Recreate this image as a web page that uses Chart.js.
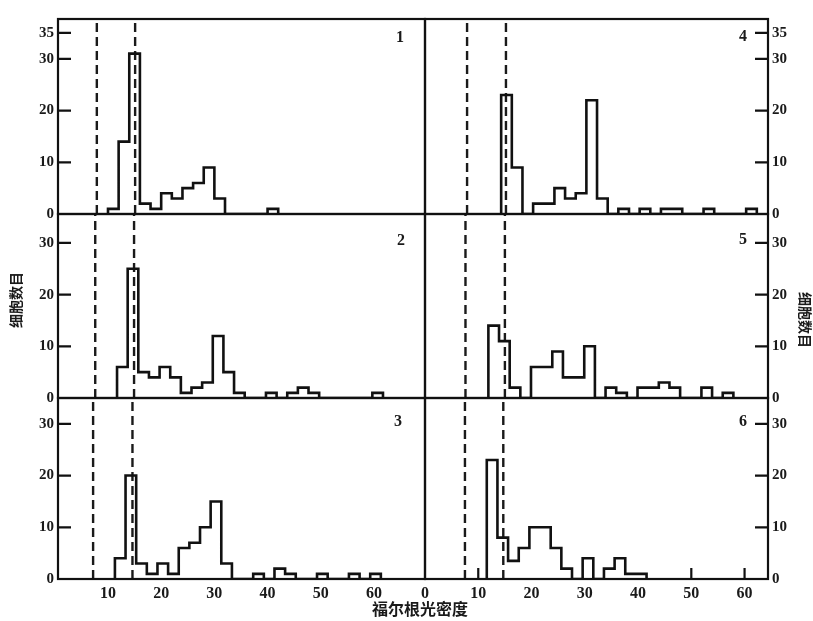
<!DOCTYPE html>
<html>
<head>
<meta charset="utf-8">
<script src="https://cdn.jsdelivr.net/npm/chart.js@4.4.1/dist/chart.umd.min.js"></script>
<style>
  body { margin: 0; background: #fff; }
  #wrap { position: relative; width: 813px; height: 621px; overflow: hidden; background: #fff; }
  #wrap canvas { position: absolute; left: 0; top: 0; }
  .lab { position: absolute; transform: translate(-50%, -50%); color: #1a1a1a; line-height: 1; white-space: nowrap;
         font-family: "Liberation Serif", serif; font-weight: bold; font-size: 16px; }
  .cjk { font-family: "Noto Sans CJK SC", sans-serif; font-weight: bold; }
</style>
</head>
<body>
<div id="wrap">
  <canvas id="p1" width="813" height="621"></canvas>
  <canvas id="p2" width="813" height="621"></canvas>
  <canvas id="p3" width="813" height="621"></canvas>
  <canvas id="p4" width="813" height="621"></canvas>
  <canvas id="p5" width="813" height="621"></canvas>
  <canvas id="p6" width="813" height="621"></canvas>

  <div class="lab" style="left:400px;top:37px">1</div>
  <div class="lab" style="left:401px;top:240px">2</div>
  <div class="lab" style="left:398px;top:421px">3</div>
  <div class="lab" style="left:743px;top:36px">4</div>
  <div class="lab" style="left:743px;top:239px">5</div>
  <div class="lab" style="left:743px;top:421px">6</div>

  <div class="lab cjk" style="left:15px;top:300px;font-size:14px;transform:translate(-50%,-50%) rotate(-90deg)">细胞数目</div>
  <div class="lab cjk" style="left:806px;top:320px;font-size:14px;transform:translate(-50%,-50%) rotate(90deg)">细胞数目</div>
  <div class="lab cjk" style="left:420px;top:608px;font-size:16px">福尔根光密度</div>
</div>

<script>
Chart.defaults.font.family = '"Liberation Serif", serif';
Chart.defaults.color = '#1a1a1a';

const binWidth = 2;

// cell counts per bin (Feulgen optical density), bins start at pXStart
const p1Start = 10;
const p1Counts = [1, 14, 31, 2, 1, 4, 3, 5, 6, 9, 3, 0, 0, 0, 0, 1];
const p2Start = 11.7;
const p2Counts = [6, 25, 5, 4, 6, 4, 1, 2, 3, 12, 5, 1, 0, 0, 1, 0, 1, 2, 1, 0, 0, 0, 0, 0, 1];
const p3Start = 11.3;
const p3Counts = [4, 20, 3, 1, 3, 1, 6, 7, 10, 15, 3, 0, 0, 1, 0, 2, 1, 0, 0, 1, 0, 0, 1, 0, 1];
const p4Start = 14.3;
const p4Counts = [23, 9, 0, 2, 2, 5, 3, 4, 22, 3, 0, 1, 0, 1, 0, 1, 1, 0, 0, 1, 0, 0, 0, 1];
const p5Start = 11.9;
const p5Counts = [14, 11, 2, 0, 6, 6, 9, 4, 4, 10, 0, 2, 1, 0, 2, 2, 3, 2, 0, 0, 2, 0, 1];
const p6Start = 11.6;
const p6Counts = [23, 8, 3.5, 6, 10, 10, 6, 2, 0, 4, 0, 2, 4, 1, 1];

// dashed reference lines
const p1Dash = [7.9, 15.1];
const p2Dash = [7.6, 14.9];
const p3Dash = [7.2, 14.6];
const p4Dash = [7.9, 15.2];
const p5Dash = [7.6, 15.0];
const p6Dash = [7.5, 14.7];

// tick labels
const yTicksTop = [0, 10, 20, 30, 35];
const yTicks = [0, 10, 20, 30];
const xTicksLeft = [10, 20, 30, 40, 50, 60];
const xTicksRight = [0, 10, 20, 30, 40, 50, 60];
const p6InnerTicks = [10, 50, 60];

// axis ranges
const leftXRange = [0.6, 69.6];
const rightXRange = [0, 64.4];
const rowYMax = [37.7, 35.6, 35.0];

// panel geometry on the page
const colEdges = { left: [58, 425], right: [425, 768] };
const rowEdges = [[19, 214], [214, 398], [398, 579]];
const W = 813, H = 621;

function histPoints(start, counts) {
  const pts = [{ x: start, y: 0 }];
  counts.forEach((c, i) => pts.push({ x: start + i * binWidth, y: c }));
  pts.push({ x: start + counts.length * binWidth, y: 0 });
  return pts;
}

const panelFrame = {
  id: 'panelFrame',
  afterDatasetsDraw(chart, args, opts) {
    const { ctx, chartArea: a, scales } = chart;
    ctx.save();
    ctx.strokeStyle = '#111';
    ctx.lineWidth = 2.2;
    ctx.strokeRect(a.left, a.top, a.right - a.left, a.bottom - a.top);
    ctx.beginPath();
    scales.y.ticks.forEach(t => {
      const py = scales.y.getPixelForValue(t.value);
      if (opts.side === 'left') { ctx.moveTo(a.left, py); ctx.lineTo(a.left + 13, py); }
      else { ctx.moveTo(a.right - 13, py); ctx.lineTo(a.right, py); }
    });
    (opts.xInner || []).forEach(v => {
      const px = scales.x.getPixelForValue(v);
      ctx.moveTo(px, a.bottom);
      ctx.lineTo(px, a.bottom - 11);
    });
    ctx.stroke();
    ctx.restore();
  }
};

function makePanel(id, side, row, start, counts, dash, xInner) {
  const isBottom = row === 2;
  const yMax = rowYMax[row];
  const [cl, cr] = colEdges[side];
  const [rt, rb] = rowEdges[row];
  const xAxisH = isBottom ? H - rb : 0;
  const xr = side === 'left' ? leftXRange : rightXRange;
  const xVals = side === 'left' ? xTicksLeft : xTicksRight;
  const yVals = row === 0 ? yTicksTop : yTicks;

  const datasets = [{
    data: histPoints(start, counts),
    stepped: 'before',
    borderColor: '#111',
    borderWidth: 2.6,
    pointRadius: 0
  }];
  dash.forEach(d => datasets.push({
    data: [{ x: d, y: 0 }, { x: d, y: yMax }],
    borderColor: '#1a1a1a',
    borderWidth: 2.4,
    borderDash: [9, 5],
    pointRadius: 0
  }));

  const xScale = {
    type: 'linear',
    min: xr[0],
    max: xr[1],
    display: isBottom,
    afterBuildTicks: s => { s.ticks = xVals.map(v => ({ value: v })); },
    grid: { display: false, drawTicks: false },
    border: { display: false },
    ticks: { padding: 5, autoSkip: false, maxRotation: 0, font: { size: 16, weight: 'bold' } }
  };
  if (isBottom) xScale.afterFit = s => { s.height = xAxisH; };

  new Chart(document.getElementById(id), {
    type: 'line',
    data: { datasets },
    plugins: [panelFrame],
    options: {
      responsive: false,
      animation: false,
      events: [],
      devicePixelRatio: 1,
      layout: {
        padding: {
          left: side === 'left' ? 0 : cl,
          right: side === 'left' ? W - cr : 0,
          top: rt,
          bottom: H - rb - xAxisH
        }
      },
      plugins: {
        legend: { display: false },
        tooltip: { enabled: false },
        panelFrame: { side, xInner }
      },
      scales: {
        x: xScale,
        y: {
          type: 'linear',
          position: side,
          min: 0,
          max: yMax,
          afterFit: s => { s.width = side === 'left' ? cl : W - cr; },
          afterBuildTicks: s => { s.ticks = yVals.map(v => ({ value: v })); },
          grid: { display: false, drawTicks: false },
          border: { display: false },
          ticks: { padding: 4, font: { size: 15, weight: 'bold' } }
        }
      }
    }
  });
}

makePanel('p1', 'left', 0, p1Start, p1Counts, p1Dash);
makePanel('p2', 'left', 1, p2Start, p2Counts, p2Dash);
makePanel('p3', 'left', 2, p3Start, p3Counts, p3Dash);
makePanel('p4', 'right', 0, p4Start, p4Counts, p4Dash);
makePanel('p5', 'right', 1, p5Start, p5Counts, p5Dash);
makePanel('p6', 'right', 2, p6Start, p6Counts, p6Dash, p6InnerTicks);
</script>
</body>
</html>
